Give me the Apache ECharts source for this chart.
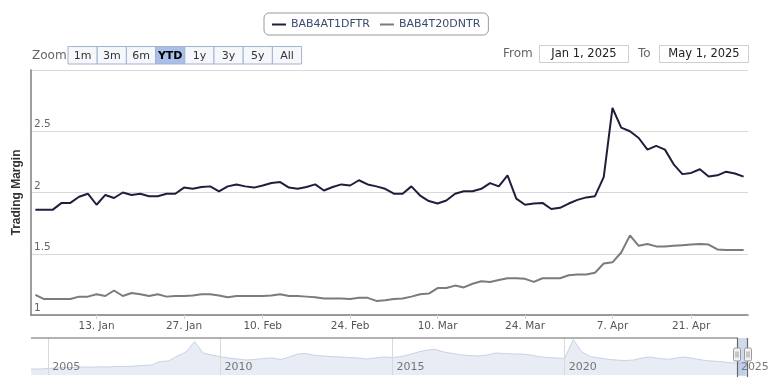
<!DOCTYPE html>
<html><head><meta charset="utf-8">
<script src="https://cdn.jsdelivr.net/npm/echarts@6/dist/echarts.min.js"></script>
<style>html,body{margin:0;padding:0;background:#fff}#c{width:768px;height:388px}</style>
</head><body><div id="c"></div>
<script>
// ---------- data ----------
const seriesNames = ['BAB4AT1DFTR', 'BAB4T20DNTR'];
const dates = [
'2025-01-02','2025-01-03','2025-01-06','2025-01-07','2025-01-08','2025-01-09','2025-01-10',
'2025-01-13','2025-01-14','2025-01-15','2025-01-16','2025-01-17',
'2025-01-20','2025-01-21','2025-01-22','2025-01-23','2025-01-24',
'2025-01-27','2025-01-28','2025-01-29','2025-01-30',
'2025-02-03','2025-02-04','2025-02-05','2025-02-06','2025-02-07',
'2025-02-10','2025-02-11','2025-02-12','2025-02-13','2025-02-14',
'2025-02-17','2025-02-18','2025-02-19','2025-02-20','2025-02-21',
'2025-02-24','2025-02-25','2025-02-26','2025-02-27','2025-02-28',
'2025-03-03','2025-03-04','2025-03-05','2025-03-06','2025-03-07',
'2025-03-10','2025-03-11','2025-03-12','2025-03-13','2025-03-14',
'2025-03-17','2025-03-18','2025-03-19','2025-03-20','2025-03-21',
'2025-03-24','2025-03-25','2025-03-26','2025-03-27','2025-03-28',
'2025-03-31','2025-04-01','2025-04-02','2025-04-03','2025-04-04',
'2025-04-07','2025-04-08','2025-04-09','2025-04-10','2025-04-11',
'2025-04-14','2025-04-15','2025-04-16','2025-04-17',
'2025-04-21','2025-04-22','2025-04-23','2025-04-24','2025-04-25',
'2025-04-28','2025-04-29'
];
const bab4at1dftr = [
1.86,1.86,1.86,1.915,1.915,1.965,1.99,1.90,1.98,1.955,
2.00,1.98,1.99,1.97,1.97,1.99,1.99,2.04,2.03,2.045,
2.05,2.01,2.05,2.066,2.05,2.04,2.057,2.077,2.085,2.04,
2.03,2.045,2.066,2.016,2.045,2.066,2.057,2.10,2.066,2.05,
2.03,1.99,1.99,2.05,1.975,1.93,1.91,1.935,1.99,2.01,
2.01,2.03,2.077,2.05,2.14,1.95,1.90,1.91,1.915,1.865,
1.875,1.91,1.94,1.96,1.97,2.125,2.69,2.53,2.50,2.445,
2.35,2.38,2.35,2.23,2.15,2.16,2.19,2.13,2.14,2.17,
2.155,2.13
];
const bab4t20dntr = [
1.165,1.13,1.13,1.13,1.13,1.15,1.15,1.17,1.155,1.20,
1.155,1.18,1.17,1.155,1.17,1.15,1.155,1.155,1.16,1.17,
1.17,1.16,1.145,1.155,1.155,1.155,1.155,1.16,1.17,1.155,
1.155,1.15,1.145,1.135,1.135,1.135,1.13,1.14,1.14,1.115,
1.12,1.13,1.135,1.15,1.17,1.175,1.22,1.22,1.24,1.225,
1.255,1.275,1.27,1.285,1.30,1.30,1.295,1.27,1.30,1.30,
1.30,1.325,1.33,1.33,1.345,1.42,1.43,1.51,1.65,1.565,
1.58,1.56,1.56,1.565,1.57,1.575,1.58,1.575,1.535,1.53,
1.53,1.53
];
const xTickDates = ['2025-01-13','2025-01-27','2025-02-10','2025-02-24','2025-03-10','2025-03-24','2025-04-07','2025-04-21'];
const monthNames = ['Jan','Feb','Mar','Apr','May','Jun','Jul','Aug','Sep','Oct','Nov','Dec'];
const yMin = 1, yMax = 3, yStep = 0.5;
const yTitle = 'Trading Margin';

// navigator (long history of BAB4AT1DFTR)
const navDates = [
'2004-07','2004-10',
'2005-01','2005-04','2005-07','2005-10','2006-01','2006-04','2006-07','2006-10',
'2007-01','2007-04','2007-07','2007-10','2008-01','2008-04','2008-07','2008-10',
'2009-01','2009-04','2009-07','2009-10','2010-01','2010-04','2010-07','2010-10',
'2011-01','2011-04','2011-07','2011-10','2012-01','2012-04','2012-07','2012-10',
'2013-01','2013-04','2013-07','2013-10','2014-01','2014-04','2014-07','2014-10',
'2015-01','2015-04','2015-07','2015-10','2016-01','2016-04','2016-07','2016-10',
'2017-01','2017-04','2017-07','2017-10','2018-01','2018-04','2018-07','2018-10',
'2019-01','2019-04','2019-07','2019-10','2020-01','2020-04','2020-07','2020-10',
'2021-01','2021-04','2021-07','2021-10','2022-01','2022-04','2022-07','2022-10',
'2023-01','2023-04','2023-07','2023-10','2024-01','2024-04','2024-07','2024-10',
'2025-01','2025-04'
];
const navValues = [
1.85,1.85,
1.875,1.90,1.925,1.925,1.95,1.94,1.96,1.95,
1.975,1.97,2.0,2.025,2.05,2.225,2.25,2.50,
2.70,3.215,2.65,2.55,2.465,2.40,2.35,2.30,
2.325,2.375,2.40,2.325,2.45,2.60,2.625,2.525,
2.50,2.465,2.45,2.425,2.40,2.35,2.40,2.45,
2.425,2.475,2.575,2.70,2.80,2.825,2.70,2.625,
2.55,2.525,2.50,2.55,2.65,2.625,2.60,2.60,
2.55,2.465,2.425,2.40,2.385,3.325,2.70,2.465,
2.40,2.335,2.30,2.275,2.30,2.40,2.45,2.375,
2.335,2.40,2.45,2.375,2.30,2.25,2.225,2.175,
2.135,2.15
];
const navYears = [2005, 2010, 2015, 2020, 2025];
const navStart = '2004-07-01', navEnd = '2025-04-29';
const navYMin = 1.55, navYMax = 3.4;

// range selector texts
const zoomLabel = 'Zoom';
const rangeButtons = ['1m','3m','6m','YTD','1y','3y','5y','All'];
const selectedRange = 'YTD';
const fromText = 'From', toText = 'To';
const fromValue = 'Jan 1, 2025', toValue = 'May 1, 2025';

// ---------- chart ----------
const FONT = 'DejaVu Sans';
const colors = ['#1f1f3d', '#7b7b7b'];
const chart = echarts.init(document.getElementById('c'), null, {renderer: 'canvas'});

function fmtDay(v) {
  const p = v.split('-');
  return (+p[2]) + '. ' + monthNames[+p[1] - 1];
}
function ts(s) { const p = s.split('-'); return new Date(+p[0], (+p[1] || 1) - 1, +(p[2] || 1)).getTime(); }
function yearTs(y) { return new Date(y, 0, 1).getTime(); }

const graphics = [];
graphics.push({type: 'text', silent: true, style: {text: zoomLabel, x: 32, y: 56, verticalAlign: 'middle', font: '12px ' + FONT, fill: '#666'}});
const bX = 68, bW = 29.2, bY = 46.5, bH = 17.5;
rangeButtons.forEach((t, i) => {
  const sel = t === selectedRange;
  graphics.push({type: 'rect', silent: true, shape: {x: bX + i * bW, y: bY, width: bW, height: bH},
    style: {fill: sel ? '#a9bfe8' : '#f6f7fa', stroke: '#a3b3d3', lineWidth: 1}});
  graphics.push({type: 'text', silent: true, style: {text: t, x: bX + i * bW + bW / 2, y: bY + bH / 2 + 0.5,
    align: 'center', verticalAlign: 'middle', font: (sel ? 'bold ' : '') + '11px ' + FONT, fill: sel ? '#000' : '#333'}});
});
graphics.push({type: 'text', silent: true, style: {text: fromText, x: 503, y: 54, verticalAlign: 'middle', font: '12px ' + FONT, fill: '#666'}});
graphics.push({type: 'rect', silent: true, shape: {x: 539.5, y: 45.5, width: 89, height: 17}, style: {fill: '#fff', stroke: '#cfcfcf', lineWidth: 1}});
graphics.push({type: 'text', silent: true, style: {text: fromValue, x: 584, y: 54.5, align: 'center', verticalAlign: 'middle', font: '11.5px ' + FONT, fill: '#222'}});
graphics.push({type: 'text', silent: true, style: {text: toText, x: 638, y: 54, verticalAlign: 'middle', font: '12px ' + FONT, fill: '#666'}});
graphics.push({type: 'rect', silent: true, shape: {x: 659.5, y: 45.5, width: 89, height: 17}, style: {fill: '#fff', stroke: '#cfcfcf', lineWidth: 1}});
graphics.push({type: 'text', silent: true, style: {text: toValue, x: 704, y: 54.5, align: 'center', verticalAlign: 'middle', font: '11.5px ' + FONT, fill: '#222'}});
graphics.push({type: 'rect', silent: true, z: 10, shape: {x: 737.5, y: 338, width: 10, height: 38}, style: {fill: 'rgba(102,133,194,0.3)'}});
graphics.push({type: 'polyline', silent: true, z: 10, shape: {points: [[31, 338], [737.5, 338], [737.5, 377]]}, style: {stroke: '#666', lineWidth: 1.2, fill: null}});
graphics.push({type: 'polyline', silent: true, z: 10, shape: {points: [[747.5, 338], [747.5, 377]]}, style: {stroke: '#666', lineWidth: 1.2, fill: null}});
[733.5, 744.5].forEach(hx => {
  graphics.push({type: 'rect', silent: true, z: 11, shape: {x: hx, y: 348, width: 7, height: 13, r: 1.5}, style: {fill: '#f2f2f2', stroke: '#999', lineWidth: 1}});
  graphics.push({type: 'line', silent: true, z: 12, shape: {x1: hx + 2.5, y1: 351.5, x2: hx + 2.5, y2: 357.5}, style: {stroke: '#999', lineWidth: 1}});
  graphics.push({type: 'line', silent: true, z: 12, shape: {x1: hx + 4.5, y1: 351.5, x2: hx + 4.5, y2: 357.5}, style: {stroke: '#999', lineWidth: 1}});
});

const option = {
  animation: false,
  color: colors,
  textStyle: {fontFamily: FONT},
  legend: {
    data: seriesNames,
    left: 264, top: 13,
    padding: [6, 8, 5, 8],
    itemGap: 10,
    itemWidth: 14, itemHeight: 2,
    icon: 'rect',
    borderColor: '#999', borderWidth: 1, borderRadius: 5,
    textStyle: {color: '#3a4b6d', fontSize: 11, fontFamily: FONT}
  },
  grid: [
    {left: 31, right: 20, top: 70, height: 245, containLabel: false},
    {left: 31, right: 20, top: 338, height: 37, containLabel: false}
  ],
  xAxis: [
    {
      type: 'category', gridIndex: 0, data: dates, boundaryGap: true,
      axisLine: {show: true, lineStyle: {color: '#7d7d86', width: 1.5}},
      axisTick: {show: true, alignWithLabel: true, length: 4, lineStyle: {color: '#ccd6eb'},
        interval: (i, v) => xTickDates.includes(v)},
      axisLabel: {interval: (i, v) => xTickDates.includes(v), formatter: fmtDay,
        color: '#555', fontSize: 10.5, margin: 6, fontFamily: FONT},
      splitLine: {show: false}
    },
    {
      type: 'value', gridIndex: 1, min: ts(navStart), max: ts(navEnd), scale: true,
      axisLine: {show: false}, axisTick: {show: false}, splitLine: {show: false},
      axisLabel: {show: false}
    }
  ],
  yAxis: [
    {
      type: 'value', gridIndex: 0, min: yMin, max: yMax, interval: yStep,
      name: yTitle, nameLocation: 'middle', nameRotate: 90, nameGap: 8,
      nameTextStyle: {fontWeight: 'bold', fontSize: 12, color: '#333', fontFamily: 'Liberation Sans'},
      axisLine: {show: true, lineStyle: {color: '#7d7d86', width: 1.5}},
      axisTick: {show: false},
      splitLine: {show: true, lineStyle: {color: '#d8d8d8', width: 1}},
      axisLabel: {inside: true, showMaxLabel: false, align: 'left', verticalAlign: 'bottom',
        padding: [0, 0, 1, 0], margin: 3, color: '#666', fontSize: 10.5, fontFamily: FONT,
        formatter: v => String(v)}
    },
    {
      type: 'value', gridIndex: 1, min: navYMin, max: navYMax,
      axisLine: {show: false}, axisTick: {show: false}, axisLabel: {show: false}, splitLine: {show: false}
    }
  ],
  series: [
    {name: seriesNames[0], type: 'line', xAxisIndex: 0, yAxisIndex: 0, data: bab4at1dftr,
      showSymbol: false, symbol: 'none', lineStyle: {color: colors[0], width: 2}, itemStyle: {color: colors[0]}, z: 3},
    {name: seriesNames[1], type: 'line', xAxisIndex: 0, yAxisIndex: 0, data: bab4t20dntr,
      showSymbol: false, symbol: 'none', lineStyle: {color: colors[1], width: 2}, itemStyle: {color: colors[1]}, z: 2},
    {name: 'navigator', type: 'line', xAxisIndex: 1, yAxisIndex: 1,
      data: navDates.map((d, i) => [ts(d), navValues[i]]),
      showSymbol: false, symbol: 'none', lineStyle: {color: '#c8d2e3', width: 1},
      areaStyle: {color: '#e8edf5', opacity: 1, origin: 'start'},
      z: 1},
    {name: 'navYears', type: 'scatter', xAxisIndex: 1, yAxisIndex: 1, silent: true,
      data: navYears.map(y => [yearTs(y), navYMin]),
      symbolSize: 0, clip: false,
      label: {show: true, position: [4, -13], formatter: p => String(new Date(p.value[0]).getFullYear()),
        color: '#555', fontSize: 11, fontFamily: FONT},
      markLine: {silent: true, symbol: 'none', label: {show: false},
        lineStyle: {color: '#d9d9d9', type: 'solid', width: 1},
        data: navYears.map(y => ({xAxis: yearTs(y)}))},
      z: 2}
  ],
  graphic: graphics
};
chart.setOption(option);
</script>
</body></html>
